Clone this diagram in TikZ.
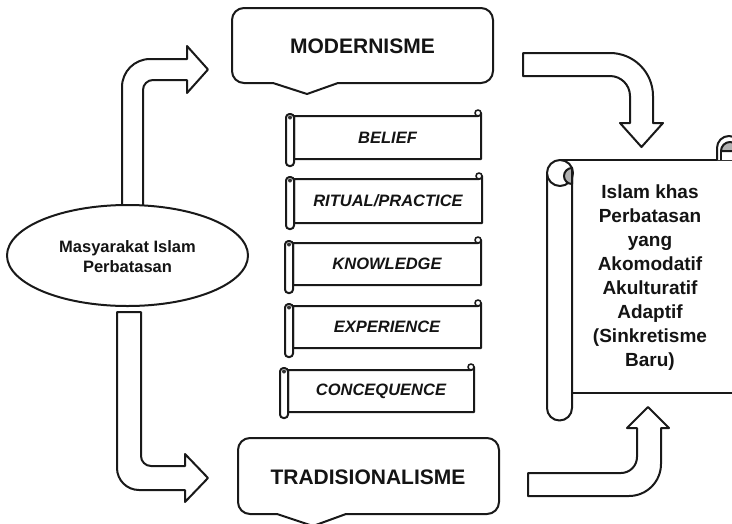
\documentclass[tikz,border=0pt]{standalone}
\usepackage{fontspec}
\setmainfont{Liberation Sans}
\usetikzlibrary{shapes.geometric}
\tikzset{
  ln/.style={line width=2pt, draw=black!90, fill=white, line join=round},
  callout/.style={font=\bfseries\fontsize{21}{25}\selectfont, text=black!92, inner sep=0pt},
  scr/.style={font=\bfseries\itshape\fontsize{16.5}{20}\selectfont, text=black!92, inner sep=0pt},
  big/.style={font=\bfseries\fontsize{19}{24.1}\selectfont, text=black!92, align=center, inner sep=0pt},
  ell/.style={font=\bfseries\fontsize{16.5}{20}\selectfont, text=black!92, align=center, inner sep=0pt},
}
% #1 L, #2 R, #3 T, #4 B, #5 roll bottom, #6 name, #7 text
\newcommand\bannerscroll[7]{%
  \draw[ln] ({#1+8},#3) -- ({#2-3},#3) arc[start angle=90,end angle=0,radius=3] -- (#2,#4) -- ({#1+8},#4) -- cycle;
  \draw[ln, line width=1.6pt] ({#2-3},{#3-3}) circle (3);
  \draw[ln, rounded corners=3.5pt] (#1,{#3-2}) rectangle ({#1+8},#5);
  \fill[black!80] ({#1+4},{#3+1.5}) circle (2);
  \node[scr] (#6) at ({(#1+8+#2)/2},{(#3+#4)/2}) {#7};
}
\begin{document}
\begin{tikzpicture}[x=1pt,y=-1pt]
\useasboundingbox (0,0) rectangle (732,523);
\fill[white] (0,0) rectangle (732,523);
\clip (0,0) rectangle (732,523);

% ---- block arrows ----
\draw[ln] (122,215) -- (122,{59+28}) arc[start angle=180,end angle=270,radius=28]
  -- (187,59) -- (187,46) -- (208,69.5) -- (187,93) -- (187,80)
  -- ({143+10},80) arc[start angle=270,end angle=180,radius=10] -- (143,215) -- cycle;

\draw[ln] (117,312) -- (117,{490-22}) arc[start angle=180,end angle=90,radius=22]
  -- (185,490) -- (185,502) -- (208,478) -- (185,454) -- (185,466)
  -- ({141+10},466) arc[start angle=90,end angle=180,radius=10] -- (141,312) -- cycle;

\draw[ln] (523,53) -- ({653-43},53) arc[start angle=270,end angle=360,radius=43]
  -- (653,123) -- (663,123) -- (641.5,147) -- (620,123) -- (630,123)
  -- (630,{76+20}) arc[start angle=0,end angle=-90,radius=20] -- (523,76) -- cycle;

\draw[ln] (528,473) -- ({637-16},473) arc[start angle=90,end angle=0,radius=16]
  -- (637,428) -- (627,428) -- (648,407) -- (669,428) -- (661,428)
  -- (661,{496-32}) arc[start angle=0,end angle=90,radius=32] -- (528,496) -- cycle;

% ---- ellipse ----
\node[ln, ellipse, minimum width=241pt, minimum height=101pt, inner sep=0pt] (soc) at (127.5,255.5) {};
\node[ell] (soctext) at (127.5,257) {Masyarakat Islam\\Perbatasan};

% ---- callouts ----
\draw[ln] (273,83) -- (307,94) -- (338,83) -- ({493-12},83) arc[start angle=90,end angle=0,radius=12]
  -- (493,{8+12}) arc[start angle=0,end angle=-90,radius=12]
  -- ({232+12},8) arc[start angle=270,end angle=180,radius=12]
  -- (232,{83-12}) arc[start angle=180,end angle=90,radius=12] -- cycle;
\node[callout] (mod) at (362.5,46) {MODERNISME};

\draw[ln] (277,514) -- (313,526) -- (346,514) -- ({499-12},514) arc[start angle=90,end angle=0,radius=12]
  -- (499,{438+12}) arc[start angle=0,end angle=-90,radius=12]
  -- ({238+12},438) arc[start angle=270,end angle=180,radius=12]
  -- (238,{514-12}) arc[start angle=180,end angle=90,radius=12] -- cycle;
\node[callout] (trad) at (368,477) {TRADISIONALISME};

% ---- small scrolls ----
\bannerscroll{286}{481}{116}{159}{166}{belief}{BELIEF}
\bannerscroll{286}{482}{179}{223}{229}{ritual}{RITUAL/PRACTICE}
\bannerscroll{285}{481}{243}{285}{293}{know}{KNOWLEDGE}
\bannerscroll{285}{481}{306}{348}{357}{exp}{EXPERIENCE}
\bannerscroll{280}{474}{370}{412}{418}{conc}{CONCEQUENCE}

% ---- big scroll ----
\draw[ln] (560,160) -- (745,160) -- (745,393) -- (560,393) -- cycle;
\draw[ln] (717,160) -- (717,148) arc[start angle=180,end angle=360,radius=12] -- (741,160);
\draw[ln, fill=black!30] (721,151) arc[start angle=180,end angle=360,radius=9] -- cycle;
\draw[ln] (721,151) -- (721,160);
\draw[ln] (547,173) -- (547,408) arc[start angle=180,end angle=0,radius=12.5] -- (572,173);
\draw[ln] (560,173) circle (13);
\draw[ln, fill=black!30] (572,168) arc[start angle=270,end angle=90,radius=8] -- cycle;
\draw[ln] (572,184) -- (572,190);
\node[big] (res) at (650,277.5) {Islam khas\\Perbatasan\\yang\\Akomodatif\\Akulturatif\\Adaptif\\(Sinkretisme\\Baru)};
\end{tikzpicture}
\end{document}
